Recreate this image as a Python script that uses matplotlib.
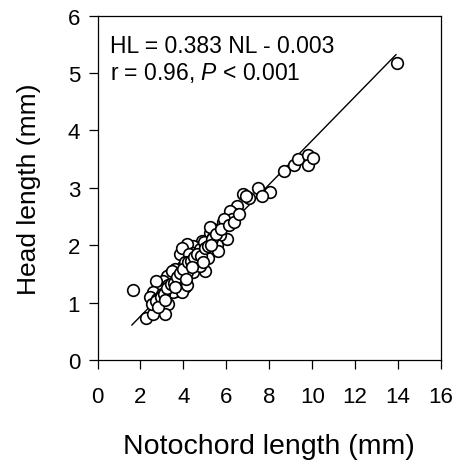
import numpy as np
import matplotlib
matplotlib.use("Agg")
import matplotlib.pyplot as plt

plt.rcParams['font.family'] = ['Liberation Sans', 'DejaVu Sans']
plt.rcParams['mathtext.fontset'] = 'custom'
plt.rcParams['mathtext.rm'] = 'Liberation Sans'
plt.rcParams['mathtext.it'] = 'Liberation Sans:italic'

# notochord length (mm) and head length (mm)
nl = [1.64, 13.94, 8.70, 9.15, 9.33, 9.82, 9.82, 10.05, 8.03, 7.46, 7.65, 7.07,
      6.79, 6.51, 6.40, 6.17, 6.28, 6.02, 6.02, 5.82, 5.40, 5.24, 5.40, 5.70,
      5.55, 5.63, 5.08, 5.16, 4.85, 4.54, 4.46, 4.15, 3.84, 3.92, 4.31, 4.62,
      5.01, 4.70, 4.00, 3.61, 3.38, 3.53, 3.92, 4.08, 3.69, 3.66, 3.22, 3.07,
      3.30, 2.91, 2.73, 2.60, 2.45, 2.76, 2.68, 2.91, 3.30, 3.14, 2.26, 2.60,
      3.53, 3.92, 4.15, 4.46, 4.77, 4.31, 4.15, 3.77, 4.46, 4.62, 4.77, 5.24,
      6.90, 5.90, 4.25, 3.45, 2.85, 3.00, 4.05, 4.95,
      2.55, 2.70, 2.95, 3.10, 3.25, 3.40, 3.55, 3.70, 3.85, 4.00, 4.20, 4.35,
      4.50, 4.65, 4.80, 5.00, 5.15, 5.35, 5.50, 5.75, 6.10, 6.35, 6.60, 2.80,
      3.15, 3.60, 4.10, 4.40, 4.90, 5.30]
hl = [1.22, 5.17, 3.30, 3.40, 3.50, 3.58, 3.40, 3.52, 2.92, 3.00, 2.85, 2.83,
      2.89, 2.69, 2.54, 2.60, 2.46, 2.37, 2.11, 2.40, 2.29, 2.22, 2.14, 2.17,
      2.00, 1.90, 2.05, 1.78, 2.08, 1.96, 1.99, 2.02, 1.85, 1.96, 1.76, 1.64,
      1.55, 1.76, 1.64, 1.59, 1.50, 1.41, 1.38, 1.27, 1.30, 1.21, 1.47, 1.38,
      1.30, 1.22, 1.38, 1.18, 1.09, 1.06, 0.95, 0.89, 0.98, 0.80, 0.74, 0.80,
      1.18, 1.18, 1.30, 1.53, 1.64, 1.64, 1.53, 1.47, 1.87, 1.79, 1.93, 2.31,
      2.85, 2.45, 1.85, 1.55, 1.05, 1.15, 1.70, 2.05,
      0.98, 1.02, 1.10, 1.15, 1.25, 1.33, 1.35, 1.45, 1.52, 1.58, 1.70, 1.72,
      1.80, 1.85, 1.82, 1.95, 1.98, 2.10, 2.20, 2.28, 2.35, 2.40, 2.55, 0.92,
      1.05, 1.28, 1.42, 1.62, 1.70, 2.00]

slope, intercept = 0.383, -0.003
fit_range = [1.6, 13.9]

fig = plt.figure(figsize=(4.58, 4.64), dpi=100)
ax = fig.add_axes([0.213, 0.222, 0.75, 0.742])

xf = np.array(fit_range)
ax.plot(xf, slope * xf + intercept, color='black', lw=1.0, zorder=1)
ax.scatter(nl, hl, s=70, facecolor='white', edgecolor='black', linewidth=1.2, zorder=2)

ax.set_xlim(0, 16)
ax.set_ylim(0, 6)
ax.set_xticks(range(0, 17, 2))
ax.set_yticks(range(0, 7))
ax.tick_params(direction='out', length=6.5, width=0.9, labelsize=16, pad=6)
ax.tick_params(axis='x', pad=12)
for s in ax.spines.values():
    s.set_linewidth(0.9)

ax.set_xlabel('Notochord length (mm)', fontsize=20.5, labelpad=19)
ax.set_ylabel('Head length (mm)', fontsize=19, labelpad=19)

ax.text(0.58, 5.37, 'HL = 0.383 NL - 0.003', fontsize=16.5, va='baseline')
ax.text(0.58, 4.90, r'r = 0.96, $\mathit{P}$ < 0.001', fontsize=16.5, va='baseline')

fig.savefig('out.png', dpi=100)
